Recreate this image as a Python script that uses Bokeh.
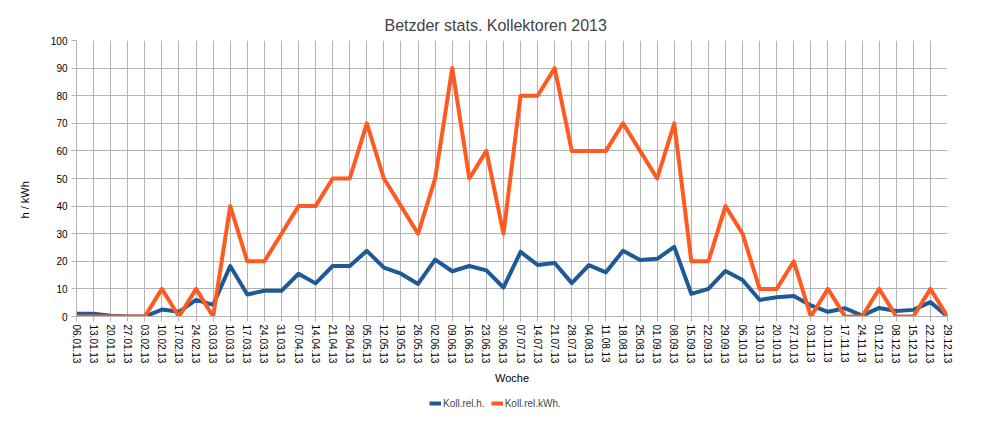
from bokeh.plotting import figure
from bokeh.models import Range1d, FixedTicker, Legend, LegendItem, Title
from bokeh.embed import file_html
from bokeh.resources import INLINE

weeks = ["06.01.13", "13.01.13", "20.01.13", "27.01.13", "03.02.13", "10.02.13", "17.02.13",
         "24.02.13", "03.03.13", "10.03.13", "17.03.13", "24.03.13", "31.03.13", "07.04.13",
         "14.04.13", "21.04.13", "28.04.13", "05.05.13", "12.05.13", "19.05.13", "26.05.13",
         "02.06.13", "09.06.13", "16.06.13", "23.06.13", "30.06.13", "07.07.13", "14.07.13",
         "21.07.13", "28.07.13", "04.08.13", "11.08.13", "18.08.13", "25.08.13", "01.09.13",
         "08.09.13", "15.09.13", "22.09.13", "29.09.13", "06.10.13", "13.10.13", "20.10.13",
         "27.10.13", "03.11.13", "10.11.13", "17.11.13", "24.11.13", "01.12.13", "08.12.13",
         "15.12.13", "22.12.13", "29.12.13"]

koll_rel_h = [1, 1, 0.3, 0, 0, 2.5, 1.7, 6, 4.2, 18.3, 8, 9.3, 9.3, 15.5, 12, 18.3, 18.3, 23.8,
              17.7, 15.5, 11.8, 20.6, 16.4, 18.3, 16.7, 10.5, 23.4, 18.7, 19.4, 12.1, 18.6, 16,
              23.8, 20.5, 20.9, 25.2, 8.2, 10, 16.5, 13.2, 6, 7, 7.4, 4, 1.7, 3, 0.3, 3.1, 2,
              2.4, 5.2, 0]

koll_rel_kwh = [0, 0, 0, 0, 0, 10, 0, 10, 0, 40, 20, 20, 30, 40, 40, 50, 50, 70, 50, 40, 30,
                50, 90, 50, 60, 30, 80, 80, 90, 60, 60, 60, 70, 60, 50, 70, 20, 20, 40, 30, 10,
                10, 20, 0, 10, 0, 0, 10, 0, 0, 10, 0]

y_ticks = list(range(0, 101, 10))

x = list(range(len(weeks)))
GRID = "#b3b3b3"
FONT = "Liberation Sans"

p = figure(frame_width=871, frame_height=276, output_backend="svg", toolbar_location=None,
           x_range=Range1d(0, len(weeks) - 1), y_range=Range1d(0, 100),
           min_border_left=75, min_border_right=0, min_border_top=40, min_border_bottom=0)

p.title.text = "Betzder stats. Kollektoren 2013"
p.title.align = "left"
p.title.text_font = FONT
p.title.text_font_size = "16px"
p.title.text_font_style = "normal"
p.title.offset = 308
p.title.standoff = 14

r_h = p.line(x, koll_rel_h, line_color="#1f5a97", line_width=4, line_join="round")
r_k = p.line(x, koll_rel_kwh, line_color="#ff5a22", line_width=4, line_join="round")

p.xaxis.ticker = FixedTicker(ticks=x)
p.xaxis.major_label_overrides = {i: w for i, w in enumerate(weeks)}
p.xaxis.major_label_orientation = "vertical"
p.xaxis.axis_label = "Woche"
p.yaxis.ticker = FixedTicker(ticks=y_ticks)

for ax in (p.xaxis, p.yaxis):
    ax.axis_line_color = GRID
    ax.major_tick_line_color = GRID
    ax.major_tick_out = 5
    ax.major_tick_in = 0
    ax.minor_tick_line_color = None
    ax.major_label_text_font = FONT
    ax.major_label_text_font_size = "10px"
    ax.major_label_text_color = "#000000"
    ax.axis_label_text_font = FONT
    ax.axis_label_text_font_size = "11px"
    ax.axis_label_text_font_style = "normal"
    ax.axis_label_text_color = "#000000"

p.xaxis.major_label_standoff = 3
p.yaxis.major_label_standoff = 4
p.xaxis.axis_label_standoff = 6

ylab = Title(text="h / kWh", align="left", offset=98, standoff=33,
             text_font=FONT, text_font_size="11px", text_font_style="normal",
             text_color="#000000")
p.add_layout(ylab, "left")

p.xgrid.grid_line_color = GRID
p.ygrid.grid_line_color = GRID
p.outline_line_color = None

legend = Legend(items=[LegendItem(label="Koll.rel.h.", renderers=[r_h]),
                       LegendItem(label="Koll.rel.kWh.", renderers=[r_k])],
                orientation="horizontal", location=(-518, -93),
                label_text_font=FONT, label_text_font_size="10px",
                glyph_width=12, glyph_height=12, label_standoff=2, spacing=6,
                padding=0, margin=0, label_height=12,
                border_line_color=None, background_fill_alpha=0)
p.add_layout(legend, "right")

open("out.html", "w").write(file_html(p, INLINE))
